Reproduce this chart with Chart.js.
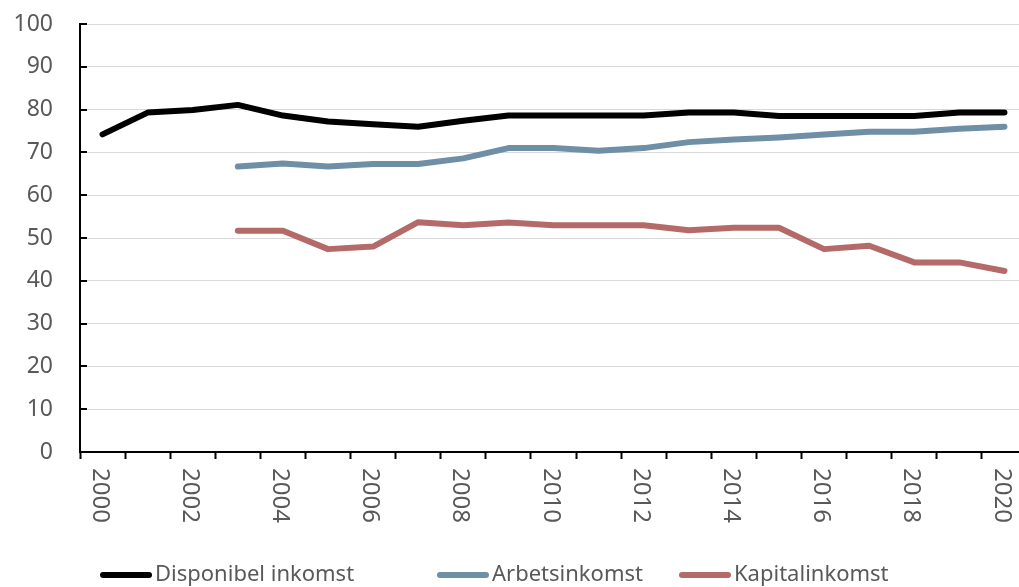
<!DOCTYPE html>
<html>
<head>
<meta charset="utf-8">
<style>
  html, body { margin: 0; padding: 0; background: #fff; overflow: hidden; }
  #wrap { width: 1019px; height: 587px; overflow: hidden; }
</style>
<script src="https://cdn.jsdelivr.net/npm/chart.js"></script>
</head>
<body>
<!-- plot area runs a few px past the right edge in the original, so the canvas is a bit wider than the window -->
<div id="wrap"><canvas id="myChart" width="1027" height="587"></canvas></div>
<script>
  // years on the x axis
  var years = ['2000', '2001', '2002', '2003', '2004', '2005', '2006', '2007', '2008', '2009', '2010',
    '2011', '2012', '2013', '2014', '2015', '2016', '2017', '2018', '2019', '2020'];

  var disponibel = [74.2, 79.3, 79.9, 81.1, 78.6, 77.2, 76.6, 76.0, 77.4, 78.6, 78.6,
    78.6, 78.6, 79.3, 79.3, 78.5, 78.5, 78.5, 78.5, 79.3, 79.3];
  var arbets = [null, null, null, 66.7, 67.4, 66.7, 67.3, 67.3, 68.6, 71.0, 71.0,
    70.4, 71.0, 72.4, 73.0, 73.5, 74.2, 74.8, 74.8, 75.5, 76.0];
  var kapital = [null, null, null, 51.7, 51.7, 47.4, 48.0, 53.7, 53.0, 53.6, 53.0,
    53.0, 53.0, 51.8, 52.4, 52.4, 47.4, 48.2, 44.3, 44.3, 42.3];

  var yTicks = [0, 10, 20, 30, 40, 50, 60, 70, 80, 90, 100];

  var FONT = "'Noto Sans', 'Open Sans', sans-serif";
  var GREY = '#595959';

  // x labels read top to bottom, so they are drawn here instead of by the scale;
  // the legend is drawn here too, to get Excel's spacing
  var extras = {
    id: 'extras',
    afterDraw: function (chart) {
      var ctx = chart.ctx;
      var xs = chart.scales.x;
      var ys = chart.scales.y;
      var area = chart.chartArea;
      ctx.save();
      // small inner tick marks on the y axis
      ctx.strokeStyle = '#000';
      ctx.lineWidth = 2;
      yTicks.forEach(function (v) {
        var py = Math.round(ys.getPixelForValue(v));
        ctx.beginPath();
        ctx.moveTo(area.left, py);
        ctx.lineTo(area.left + 7, py);
        ctx.stroke();
      });

      ctx.fillStyle = GREY;
      ctx.font = '24px ' + FONT;
      ctx.textAlign = 'left';
      ctx.textBaseline = 'middle';
      years.forEach(function (yr, i) {
        if (i % 2 !== 0) return;
        var px = xs.getPixelForValue(i) - 3;
        ctx.save();
        ctx.translate(px, area.bottom + 16);
        ctx.rotate(Math.PI / 2);
        ctx.fillText(yr, 0, 0);
        ctx.restore();
      });

      // legend
      var starts = [101, 438, 680], ly = 575;
      ctx.font = '22px ' + FONT;
      ctx.lineCap = 'round';
      ctx.lineWidth = 6;
      chart.data.datasets.forEach(function (ds, i) {
        var lx = starts[i];
        ctx.strokeStyle = ds.borderColor;
        ctx.beginPath();
        ctx.moveTo(lx + 2, ly);
        ctx.lineTo(lx + 48, ly);
        ctx.stroke();
        ctx.fillStyle = GREY;
        ctx.fillText(ds.label, lx + 54, ly);
      });
      ctx.restore();
    }
  };

  var ctx = document.getElementById('myChart').getContext('2d');
  var chart = new Chart(ctx, {
    type: 'line',
    data: {
      labels: years,
      datasets: [{
        label: 'Disponibel inkomst',
        data: disponibel,
        borderColor: '#000000',
        backgroundColor: '#000000'
      }, {
        label: 'Arbetsinkomst',
        data: arbets,
        borderColor: '#6e8fa5',
        backgroundColor: '#6e8fa5'
      }, {
        label: 'Kapitalinkomst',
        data: kapital,
        borderColor: '#b56a6a',
        backgroundColor: '#b56a6a'
      }]
    },
    plugins: [extras],
    options: {
      responsive: false,
      animation: false,
      layout: {
        padding: { top: 24, right: 0, left: 0, bottom: 0 }
      },
      elements: {
        line: { borderWidth: 6, tension: 0, borderCapStyle: 'round', borderJoinStyle: 'round' },
        point: { radius: 0 }
      },
      scales: {
        x: {
          offset: true,
          grid: {
            drawOnChartArea: false,
            offset: true,
            tickLength: 7,
            tickColor: '#000',
            tickWidth: 2
          },
          border: { color: '#000', width: 2 },
          ticks: { display: false, autoSkip: false },
          afterFit: function (s) { s.height = 135; }
        },
        y: {
          min: 0,
          max: 100,
          ticks: {
            stepSize: 10,
            padding: 27,
            color: GREY,
            font: { family: FONT, size: 23 }
          },
          grid: { color: '#d9d9d9', lineWidth: 1, drawTicks: false },
          border: { color: '#000', width: 2 },
          afterFit: function (s) {
            s.width = 80;
            s.paddingTop = 0;
            s.paddingBottom = 0;
          }
        }
      },
      plugins: {
        legend: { display: false },
        tooltip: { enabled: false }
      }
    }
  });
</script>
</body>
</html>
